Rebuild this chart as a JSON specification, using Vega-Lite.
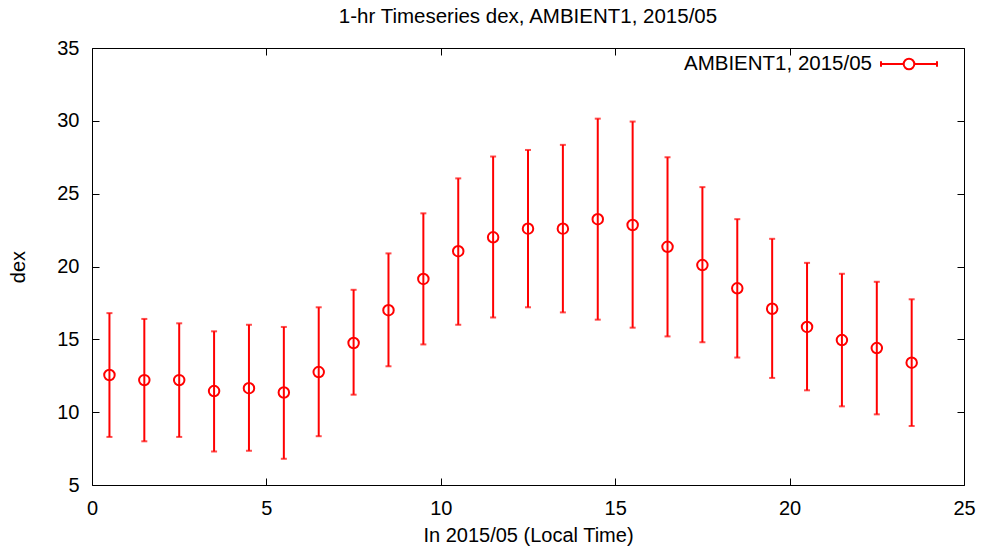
{
  "$schema": "https://vega.github.io/schema/vega-lite/v6.json",
  "width": 872,
  "height": 437,
  "autosize": {"type": "none"},
  "padding": {"left": 92, "top": 48, "right": 22, "bottom": 74},
  "background": "white",
  "title": {"text": "1-hr Timeseries dex, AMBIENT1, 2015/05", "fontSize": 20.5, "font": "Liberation Sans", "fontWeight": "normal", "color": "black", "anchor": "middle", "offset": 8},
  "config": {
    "view": {"stroke": "black", "strokeWidth": 1},
    "axis": {"grid": false, "domain": false, "labelFlush": false, "font": "Liberation Sans", "labelFont": "Liberation Sans", "titleFont": "Liberation Sans", "labelFontSize": 20, "titleFontSize": 20, "titleFontWeight": "normal", "labelColor": "black", "titleColor": "black", "tickColor": "black", "tickSize": -7, "tickWidth": 1},
    "legend": {"font": "Liberation Sans"}
  },
  "data": {"values": [
    {"h": 0.5, "v": 12.55, "lo": 8.3, "hi": 16.8, "s": "AMBIENT1, 2015/05"},
    {"h": 1.5, "v": 12.2, "lo": 8.0, "hi": 16.4, "s": "AMBIENT1, 2015/05"},
    {"h": 2.5, "v": 12.2, "lo": 8.3, "hi": 16.1, "s": "AMBIENT1, 2015/05"},
    {"h": 3.5, "v": 11.45, "lo": 7.3, "hi": 15.55, "s": "AMBIENT1, 2015/05"},
    {"h": 4.5, "v": 11.65, "lo": 7.35, "hi": 16.0, "s": "AMBIENT1, 2015/05"},
    {"h": 5.5, "v": 11.35, "lo": 6.8, "hi": 15.85, "s": "AMBIENT1, 2015/05"},
    {"h": 6.5, "v": 12.75, "lo": 8.35, "hi": 17.2, "s": "AMBIENT1, 2015/05"},
    {"h": 7.5, "v": 14.75, "lo": 11.2, "hi": 18.4, "s": "AMBIENT1, 2015/05"},
    {"h": 8.5, "v": 17.0, "lo": 13.15, "hi": 20.9, "s": "AMBIENT1, 2015/05"},
    {"h": 9.5, "v": 19.15, "lo": 14.65, "hi": 23.65, "s": "AMBIENT1, 2015/05"},
    {"h": 10.5, "v": 21.05, "lo": 16.0, "hi": 26.05, "s": "AMBIENT1, 2015/05"},
    {"h": 11.5, "v": 22.0, "lo": 16.5, "hi": 27.55, "s": "AMBIENT1, 2015/05"},
    {"h": 12.5, "v": 22.6, "lo": 17.2, "hi": 28.0, "s": "AMBIENT1, 2015/05"},
    {"h": 13.5, "v": 22.6, "lo": 16.85, "hi": 28.35, "s": "AMBIENT1, 2015/05"},
    {"h": 14.5, "v": 23.25, "lo": 16.35, "hi": 30.15, "s": "AMBIENT1, 2015/05"},
    {"h": 15.5, "v": 22.85, "lo": 15.8, "hi": 29.95, "s": "AMBIENT1, 2015/05"},
    {"h": 16.5, "v": 21.35, "lo": 15.2, "hi": 27.5, "s": "AMBIENT1, 2015/05"},
    {"h": 17.5, "v": 20.1, "lo": 14.8, "hi": 25.45, "s": "AMBIENT1, 2015/05"},
    {"h": 18.5, "v": 18.5, "lo": 13.75, "hi": 23.25, "s": "AMBIENT1, 2015/05"},
    {"h": 19.5, "v": 17.1, "lo": 12.35, "hi": 21.9, "s": "AMBIENT1, 2015/05"},
    {"h": 20.5, "v": 15.85, "lo": 11.5, "hi": 20.25, "s": "AMBIENT1, 2015/05"},
    {"h": 21.5, "v": 14.95, "lo": 10.4, "hi": 19.5, "s": "AMBIENT1, 2015/05"},
    {"h": 22.5, "v": 14.4, "lo": 9.85, "hi": 18.95, "s": "AMBIENT1, 2015/05"},
    {"h": 23.5, "v": 13.4, "lo": 9.05, "hi": 17.75, "s": "AMBIENT1, 2015/05"}
  ]},
  "resolve": {"axis": {"x": "independent", "y": "independent"}},
  "layer": [
    {
      "mark": {"type": "rule", "color": "red", "strokeWidth": 2},
      "encoding": {
        "x": {"field": "h", "type": "quantitative", "scale": {"domain": [0, 25], "nice": false}, "axis": {"orient": "bottom", "values": [0, 5, 10, 15, 20, 25], "title": "In 2015/05 (Local Time)", "labelPadding": 20, "titlePadding": 7}},
        "y": {"field": "lo", "type": "quantitative", "scale": {"domain": [5, 35], "nice": false}, "axis": {"orient": "left", "values": [5, 10, 15, 20, 25, 30, 35], "title": "dex", "labelPadding": 20, "titlePadding": 28}},
        "y2": {"field": "hi"}
      }
    },
    {
      "mark": {"type": "tick", "color": "red", "orient": "horizontal", "size": 6, "thickness": 2},
      "encoding": {
        "x": {"field": "h", "type": "quantitative", "scale": {"domain": [0, 25], "nice": false}, "axis": {"orient": "top", "values": [0, 5, 10, 15, 20, 25], "labels": false, "title": null}},
        "y": {"field": "lo", "type": "quantitative", "scale": {"domain": [5, 35], "nice": false}, "axis": {"orient": "right", "values": [5, 10, 15, 20, 25, 30, 35], "labels": false, "title": null}}
      }
    },
    {
      "mark": {"type": "tick", "color": "red", "orient": "horizontal", "size": 6, "thickness": 2},
      "encoding": {
        "x": {"field": "h", "type": "quantitative", "scale": {"domain": [0, 25], "nice": false}, "axis": null},
        "y": {"field": "hi", "type": "quantitative", "scale": {"domain": [5, 35], "nice": false}, "axis": null}
      }
    },
    {
      "mark": {"type": "point", "shape": "circle", "filled": false, "strokeWidth": 2, "size": 110, "opacity": 1},
      "encoding": {
        "x": {"field": "h", "type": "quantitative", "scale": {"domain": [0, 25], "nice": false}, "axis": null},
        "y": {"field": "v", "type": "quantitative", "scale": {"domain": [5, 35], "nice": false}, "axis": null},
        "color": {"field": "s", "type": "nominal", "scale": {"range": ["red"]}, "legend": {
          "title": null, "orient": "none", "legendX": 788, "legendY": -13, "padding": 0,
          "symbolType": "M-1,0H-0.19M0.19,0H1M-1,-0.1V0.1M1,-0.1V0.1M0.19,0A0.19,0.19 0 1,1 -0.19,0A0.19,0.19 0 1,1 0.19,0",
          "symbolSize": 3136, "symbolStrokeWidth": 2, "symbolFillColor": "transparent", "symbolStrokeColor": "red",
          "labelAlign": "right", "labelOffset": -66, "labelFontSize": 20.5, "labelFont": "Liberation Sans", "labelColor": "black", "labelLimit": 400
        }}
      }
    }
  ]
}
